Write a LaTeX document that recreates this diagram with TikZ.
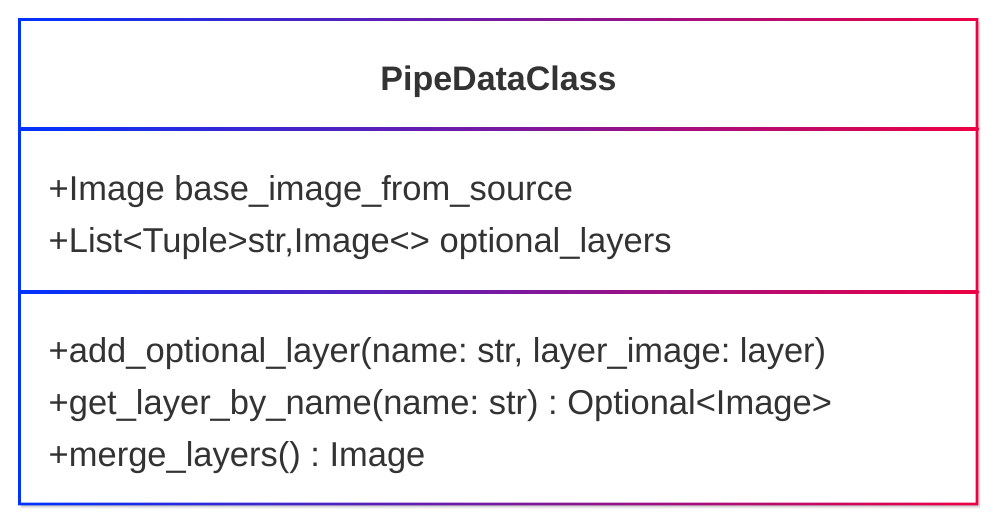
\documentclass[tikz,border=0pt]{standalone}
\usepackage{fontspec}
\setmainfont{Liberation Sans}
\frenchspacing
\usetikzlibrary{shadows.blur}
\definecolor{umlblue}{HTML}{0033FF}
\definecolor{umlred}{HTML}{EE0044}
\definecolor{textgray}{HTML}{333333}
\begin{document}
\begin{tikzpicture}[x=1pt, y=1pt,
  member/.style={anchor=base west, inner sep=0pt, text=textgray, font=\fontsize{34.5}{40}\selectfont\frenchspacing},
  edge/.style={left color=umlblue, right color=umlred}]
  \useasboundingbox (0,0) rectangle (1000,526);

  % White box with a soft shadow
  \fill[white, blur shadow={shadow xshift=2pt, shadow yshift=-3pt, shadow blur steps=6, shadow opacity=25}]
    (19.5,22) rectangle (977,506.5);

  % Frame and compartment lines (blue to red)
  \shade[edge, even odd rule] (18.2,20.7) rectangle (978.3,507.8) (20.8,23.3) rectangle (975.7,505.2);
  \shade[edge] (18.2,395.7) rectangle (978.3,398.3);
  \shade[edge] (18.2,232.7) rectangle (978.3,235.3);

  % Class name
  \node[member, anchor=base, font=\fontsize{34}{40}\selectfont\bfseries] (name) at (498.5,435.5) {PipeDataClass};

  % Attributes
  \node[member] (attrA) at (48.5,325.5) {+Image base\_image\_from\_source};
  \node[member] (attrB) at (48.5,273.5) {+List<Tuple>str,Image<> optional\_layers};

  % Methods
  \node[member] (methA) at (48.5,163.5) {+add\_optional\_layer(name: str, layer\_image: layer)};
  \node[member] (methB) at (48.5,111.5) {+get\_layer\_by\_name(name: str) : Optional<Image>};
  \node[member] (methC) at (48.5,59.5) {+merge\_layers() : Image};
\end{tikzpicture}
\end{document}
